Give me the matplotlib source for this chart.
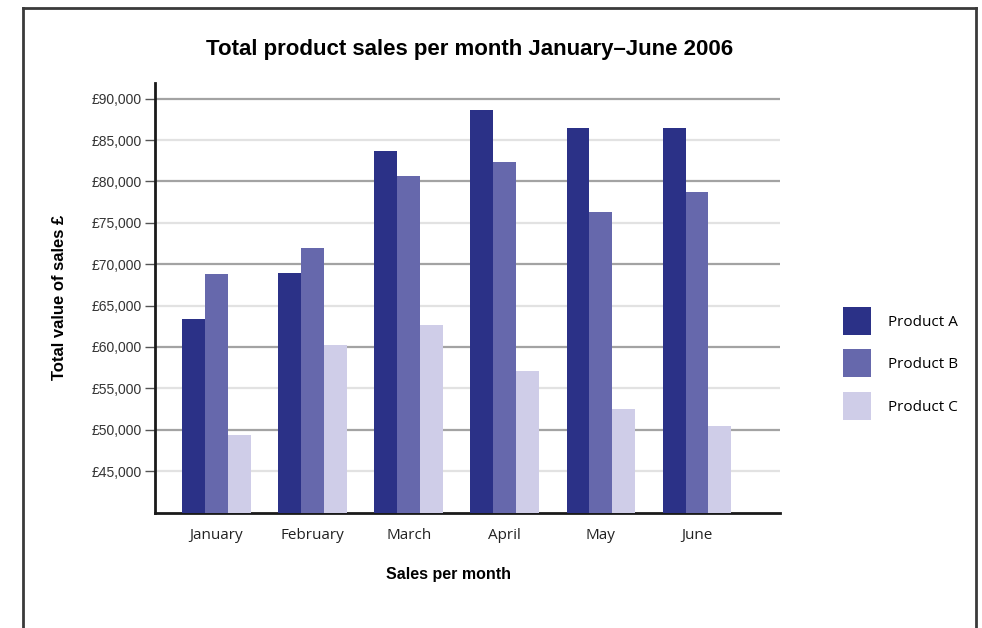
import matplotlib
matplotlib.use('Agg')
import matplotlib.pyplot as plt
from matplotlib.lines import Line2D
import numpy as np

# -- data
months = ["January", "February", "March", "April", "May", "June"]
product_a = [63400, 69000, 83700, 88600, 86500, 86500]
product_b = [68800, 72000, 80700, 82400, 76300, 78700]
product_c = [49400, 60300, 62600, 57100, 52500, 50500]
products = ["Product A", "Product B", "Product C"]
colors = ["#2b3187", "#6668ac", "#cfcde8"]
yticks = list(range(45000, 90001, 5000))

fig = plt.figure(figsize=(9.82, 6.28), dpi=100)
ax = fig.add_axes([154.7 / 982, 1 - 512.5 / 628, 625 / 982, (512.5 - 83) / 628])

x = np.arange(len(months))
w = 0.238
for i, (vals, lab, col) in enumerate(zip([product_a, product_b, product_c], products, colors)):
    ax.bar(x + (i - 1) * w, vals, w, color=col, label=lab, zorder=3)

ax.set_ylim(40000, 91900)
ax.set_xlim(-0.642, 5.86)

# -- gridlines: darker on the 10k, lighter on the 5k
for v in yticks:
    c = "#a3a3a3" if v % 10000 == 0 else "#e2e2e2"
    ax.axhline(v, color=c, lw=1.6, zorder=1)

ax.set_yticks(yticks)
ax.set_yticklabels(["£{:,}".format(v) for v in yticks], fontsize=10,
                   color="#333333", family="Liberation Sans")
ax.tick_params(axis="y", length=7, width=1, color="#555555", pad=2)
ax.set_xticks(x)
ax.set_xticklabels(months, fontsize=11, color="#222222", family="Open Sans")
ax.tick_params(axis="x", length=0, pad=11)

for s in ["top", "right"]:
    ax.spines[s].set_visible(False)
for s in ["left", "bottom"]:
    ax.spines[s].set_linewidth(2)
    ax.spines[s].set_color("#1a1a1a")

ax.set_ylabel("Total value of sales £", fontsize=12, fontweight="bold",
              family="Liberation Sans")
ax.yaxis.set_label_coords(-0.1405, 0.5)
ax.set_xlabel("Sales per month", fontsize=11.5, fontweight="bold",
              family="Liberation Sans")
ax.xaxis.set_label_coords(0.47, -0.128)

fig.text(470 / 982, 1 - 50 / 628, "Total product sales per month January\u2013June 2006",
         ha="center", va="center", fontsize=16, fontweight="bold",
         family="Liberation Sans")

leg = fig.legend(loc="upper left", bbox_to_anchor=(843 / 982, 1 - 307 / 628),
                 frameon=False, borderpad=0, borderaxespad=0,
                 handlelength=1.83, handleheight=2.44, labelspacing=0.95,
                 handletextpad=1.1, prop={"family": "Open Sans", "size": 11})

# -- outer frame (open at the bottom)
fl = dict(color="#3a3a3a", lw=2, transform=fig.transFigure)
fig.add_artist(Line2D([22.7 / 982, 22.7 / 982], [0, 1 - 7.7 / 628], **fl))
fig.add_artist(Line2D([22.7 / 982, 975.7 / 982], [1 - 7.7 / 628, 1 - 7.7 / 628], **fl))
fig.add_artist(Line2D([975.7 / 982, 975.7 / 982], [0, 1 - 7.7 / 628], **fl))

fig.savefig("out.png", dpi=100)
